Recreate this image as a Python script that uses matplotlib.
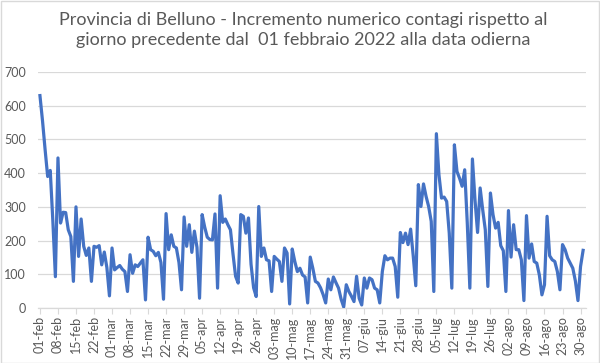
import datetime as dt
import matplotlib
matplotlib.use("Agg")
import matplotlib.pyplot as plt
from matplotlib.patches import Rectangle

# ---- data ----
start_date = dt.date(2022, 2, 1)
mesi = ["gen", "feb", "mar", "apr", "mag", "giu", "lug", "ago", "set", "ott", "nov", "dic"]
incremento = [
    630, 555, 470, 390, 408, 260, 93,
    445, 252, 284, 283, 232, 212, 79,
    300, 153, 264, 183, 156, 178, 79,
    183, 180, 185, 128, 166, 120, 36,
    178, 113, 120, 126, 115, 108, 49,
    158, 103, 128, 123, 133, 143, 24,
    210, 173, 168, 155, 165, 135, 26,
    280, 173, 217, 183, 178, 135, 54,
    270, 183, 247, 165, 228, 180, 29,
    277, 240, 210, 203, 202, 279, 59,
    333, 254, 264, 247, 232, 160, 94,
    74, 277, 272, 222, 267, 130, 60,
    34, 301, 153, 178, 143, 140, 49,
    153, 145, 138, 79, 178, 163, 12,
    175, 138, 108, 118, 98, 92, 15,
    151, 118, 79, 74, 60, 40, 15,
    86, 54, 92, 75, 59, 26, 3,
    69, 49, 35, 19, 94, 29, 9,
    89, 59, 89, 84, 59, 54, 15,
    108, 155, 143, 148, 148, 123, 32,
    224, 194, 222, 188, 234, 155, 66,
    366, 301, 368, 331, 301, 257, 49,
    517, 395, 326, 329, 316, 222, 59,
    484, 405, 385, 361, 410, 252, 59,
    442, 321, 224, 356, 291, 232, 64,
    341, 277, 237, 254, 185, 170, 49,
    289, 151, 247, 173, 173, 143, 22,
    274, 148, 190, 138, 133, 98, 39,
    69, 272, 155, 143, 138, 108, 54,
    188, 173, 148, 133, 118, 80, 22,
    123, 171,
]
title = ("Provincia di Belluno - Incremento numerico contagi rispetto al\n"
         "giorno precedente dal  01 febbraio 2022 alla data odierna")
y_ticks = [0, 100, 200, 300, 400, 500, 600, 700]

# ---- derived ----
dates = [start_date + dt.timedelta(days=i) for i in range(len(incremento))]
x = list(range(len(incremento)))
tick_pos = list(range(0, len(incremento), 7))
tick_lab = [f"{dates[i].day:02d}-{mesi[dates[i].month - 1]}" for i in tick_pos]

plt.rcParams['font.family'] = ['Lato', 'DejaVu Sans']
gray_txt = "#595959"
grid_c = "#d9d9d9"

fig = plt.figure(figsize=(6.0, 3.63), dpi=100)
fig.patch.set_facecolor("white")
ax = fig.add_axes([0.064, 0.1515, 0.913, 0.6502])

ax.plot(x, incremento, color="#4472C4", lw=2.3, solid_joinstyle="round", zorder=3)

ax.set_xlim(-0.6, 212.2)
ax.set_ylim(0, 700)
ax.set_yticks(y_ticks)
ax.set_yticklabels([str(v) for v in y_ticks])
ax.set_xticks(tick_pos)
ax.set_xticklabels(tick_lab, rotation=90)

ax.grid(axis="y", color=grid_c, lw=0.9)
ax.set_axisbelow(True)
for s in ["top", "right", "left"]:
    ax.spines[s].set_visible(False)
ax.spines["bottom"].set_color(grid_c)
ax.spines["bottom"].set_linewidth(0.9)

ax.tick_params(axis="y", length=0, pad=9, labelsize=9, labelcolor=gray_txt)
ax.tick_params(axis="x", length=4, width=0.8, color=grid_c, pad=2,
               labelsize=9, labelcolor=gray_txt)

fig.text(0.505, 0.966, title, ha="center", va="top", fontsize=13,
         color=gray_txt, linespacing=1.25)

fig.patches.append(Rectangle((0.001, 0.001), 0.997, 0.996, transform=fig.transFigure,
                             fill=False, edgecolor=grid_c, lw=1))

fig.savefig("out.png", dpi=100, facecolor="white")
